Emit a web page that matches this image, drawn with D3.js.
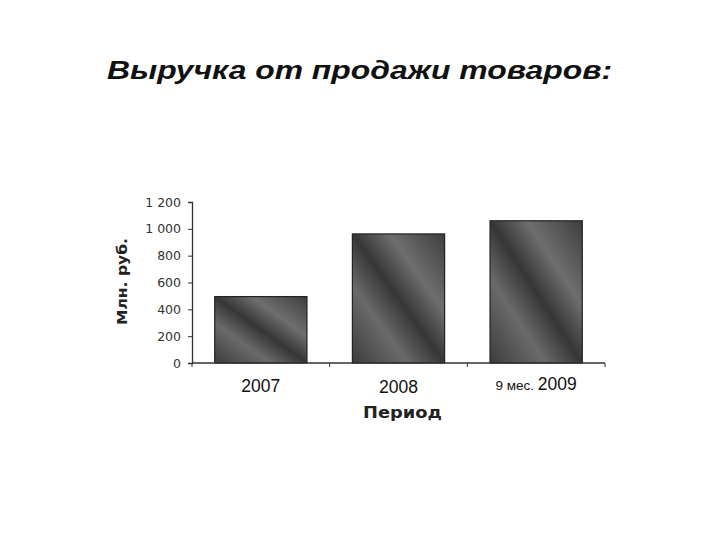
<!DOCTYPE html>
<html><head><meta charset="utf-8">
<script src="https://cdn.jsdelivr.net/npm/d3@7"></script>
<style>body{margin:0;background:#fff}</style>
</head><body>
<svg id="c" width="720" height="540"></svg>
<script>
const categories = ["2007", "2008", "9 мес. 2009"];
const values = [495, 962, 1060];
const yTicks = [0, 200, 400, 600, 800, 1000, 1200];
const yTickLabels = ["0", "200", "400", "600", "800", "1 000", "1 200"];

const svg = d3.select("#c");
const m = {l: 192, r: 605, t: 202, b: 363};
const FF = "Liberation Sans, Arial, sans-serif";
const FB = "DejaVu Sans, sans-serif";

svg.append("text").attr("x", 107).attr("y", 79)
  .attr("font-family", FF).attr("font-weight", "bold")
  .attr("font-style", "italic").attr("font-size", 25).attr("fill", "#111")
  .attr("textLength", 505).attr("lengthAdjust", "spacingAndGlyphs")
  .text("Выручка от продажи товаров:");

const defs = svg.append("defs");
const g1 = defs.append("linearGradient").attr("id", "tex").attr("x1", "0").attr("y1", "1").attr("x2", "1").attr("y2", "0");
[["0", "#3c3c3c"], ["0.3", "#6a6a6a"], ["0.5", "#363636"], ["0.7", "#6e6e6e"], ["1", "#3e3e3e"]]
  .forEach(([o, c]) => g1.append("stop").attr("offset", o).attr("stop-color", c));

const x = d3.scaleBand().domain(categories).range([m.l, m.r]).paddingInner(0.33).paddingOuter(0.165);
const xb = d3.scaleBand().domain(categories).range([m.l, m.r]);
const y = d3.scaleLinear().domain([0, 1200]).range([m.b, m.t]);

svg.selectAll("rect.bar").data(values).join("rect").attr("class", "bar")
  .attr("x", (d, i) => x(categories[i])).attr("width", x.bandwidth())
  .attr("y", d => y(d)).attr("height", d => y(0) - y(d))
  .attr("fill", "url(#tex)").attr("stroke", "#222").attr("stroke-width", 1.2);

const ya = svg.append("g").attr("transform", `translate(${m.l},0)`)
  .call(d3.axisLeft(y).tickValues(yTicks).tickSize(4).tickPadding(7)
    .tickFormat((d, i) => yTickLabels[i]));
ya.select(".domain").attr("stroke", "#333").attr("stroke-width", 1.3);
ya.selectAll(".tick line").attr("stroke", "#333");
ya.selectAll("text").attr("font-family", FB).attr("font-size", 12.5).attr("fill", "#333");

const xa = svg.append("g").attr("transform", `translate(0,${m.b})`);
xa.append("line").attr("x1", m.l).attr("x2", m.r).attr("stroke", "#333").attr("stroke-width", 1.3);
xa.selectAll("line.t").data(categories.concat(["end"])).join("line").attr("class", "t")
  .attr("x1", (d, i) => i < categories.length ? xb(d) : m.r)
  .attr("x2", (d, i) => i < categories.length ? xb(d) : m.r)
  .attr("y1", 0).attr("y2", 4).attr("stroke", "#333");

const lab = svg.selectAll("text.cat").data(categories).join("text").attr("class", "cat")
  .attr("x", d => xb(d) + xb.bandwidth() / 2).attr("y", (d, i) => i === 1 ? 393 : (i === 2 ? 390 : 392))
  .attr("text-anchor", "middle").attr("font-family", FF)
  .attr("font-size", 17.5).attr("fill", "#111");
lab.each(function(d) {
  const t = d3.select(this);
  const parts = d.split(" ");
  if (parts.length > 1) {
    t.append("tspan").attr("font-size", 13.5).text(parts.slice(0, -1).join(" ") + " ");
    t.append("tspan").text(parts[parts.length - 1]);
  } else t.text(d);
});

svg.append("text").attr("x", 363).attr("y", 418)
  .attr("font-family", FB).attr("font-weight", "bold")
  .attr("font-size", 15).attr("fill", "#222")
  .attr("textLength", 79).attr("lengthAdjust", "spacingAndGlyphs").text("Период");

svg.append("text").attr("transform", "translate(127,325) rotate(-90)")
  .attr("font-family", FB).attr("font-weight", "bold")
  .attr("font-size", 14.5).attr("fill", "#222")
  .attr("textLength", 87).attr("lengthAdjust", "spacingAndGlyphs").text("Млн. руб.");
</script>
</body></html>
